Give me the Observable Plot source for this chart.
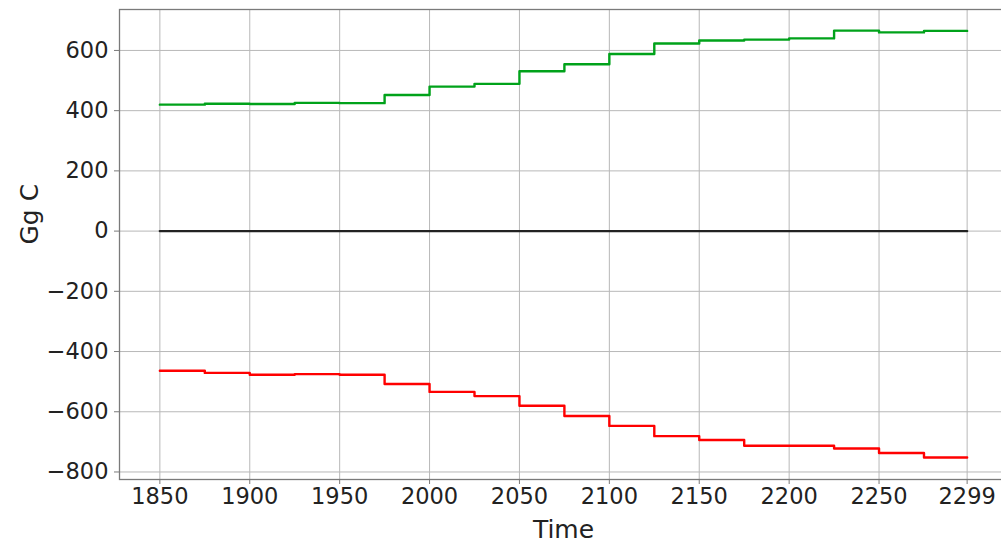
<!DOCTYPE html>
<html>
<head>
<meta charset="utf-8">
<script src="https://cdn.jsdelivr.net/npm/d3@7"></script>
<script src="https://cdn.jsdelivr.net/npm/@observablehq/plot@0.6"></script>
<style>
  html, body { margin: 0; padding: 0; background: #fff; overflow: hidden; }
  #chart svg { display: block; overflow: hidden; }
</style>
</head>
<body>
<div id="chart"></div>
<script>
// Step start years (each step lasts 25 years); last step ends at 2299
const stepYears = [1850, 1875, 1900, 1925, 1950, 1975, 2000, 2025, 2050, 2075, 2100, 2125, 2150, 2175, 2200, 2225, 2250, 2275];
const endYear = 2299;
const greenValues = [420, 423, 422, 426, 425, 452, 480, 489, 531, 554, 588, 623, 633, 636, 640, 666, 660, 665];
const redValues = [-464, -471, -477, -475, -477, -508, -534, -548, -580, -614, -647, -681, -694, -713, -713, -722, -737, -752];
const zeroValues = [0, 0];
const xTicks = [1850, 1900, 1950, 2000, 2050, 2100, 2150, 2200, 2250, 2299];
const yTicks = [-800, -600, -400, -200, 0, 200, 400, 600];
const xLabel = "Time";
const yLabel = "Gg C";

function stepSeries(values) {
  const rows = stepYears.map((t, i) => ({t, v: values[i]}));
  rows.push({t: endYear, v: values[values.length - 1]});
  return rows;
}
const green = stepSeries(greenValues);
const red = stepSeries(redValues);
const zero = [{t: stepYears[0], v: zeroValues[0]}, {t: endYear, v: zeroValues[1]}];

const frameColor = "#7a7a7a";
const gridColor = "#b8b8b8";
const font = "DejaVu Sans";

const chart = Plot.plot({
  width: 1001,
  height: 543,
  marginLeft: 119,
  marginRight: -6,
  marginTop: 9,
  marginBottom: 64,
  style: {fontFamily: font, background: "#fff"},
  x: {domain: [1827.55, 2321.45]},
  y: {domain: [-825, 736]},
  marks: [
    Plot.gridX(xTicks, {stroke: gridColor, strokeOpacity: 1, strokeWidth: 1}),
    Plot.gridY(yTicks, {stroke: gridColor, strokeOpacity: 1, strokeWidth: 1}),
    Plot.line(zero, {x: "t", y: "v", stroke: "#222", strokeWidth: 2.4}),
    Plot.line(green, {x: "t", y: "v", stroke: "#00a21a", strokeWidth: 2.4, curve: "step-after"}),
    Plot.line(red, {x: "t", y: "v", stroke: "#ff0000", strokeWidth: 2.4, curve: "step-after"}),
    Plot.frame({stroke: frameColor, strokeWidth: 1.3}),
    Plot.axisX({ticks: xTicks, tickFormat: "d", tickSize: 5, tickPadding: 4, fontSize: 22.5, color: "#222", stroke: frameColor, label: null}),
    Plot.axisY({ticks: yTicks, tickSize: 5, tickPadding: 6, fontSize: 22.5, color: "#222", stroke: frameColor, label: null}),
    Plot.text([xLabel], {frameAnchor: "bottom", dy: 50, text: d => d, fontSize: 25, fill: "#222", lineAnchor: "middle"}),
    Plot.text([yLabel], {frameAnchor: "left", dx: -90, rotate: -90, text: d => d, fontSize: 25, fill: "#222", lineAnchor: "middle"})
  ]
});
document.getElementById("chart").appendChild(chart);
</script>
</body>
</html>
